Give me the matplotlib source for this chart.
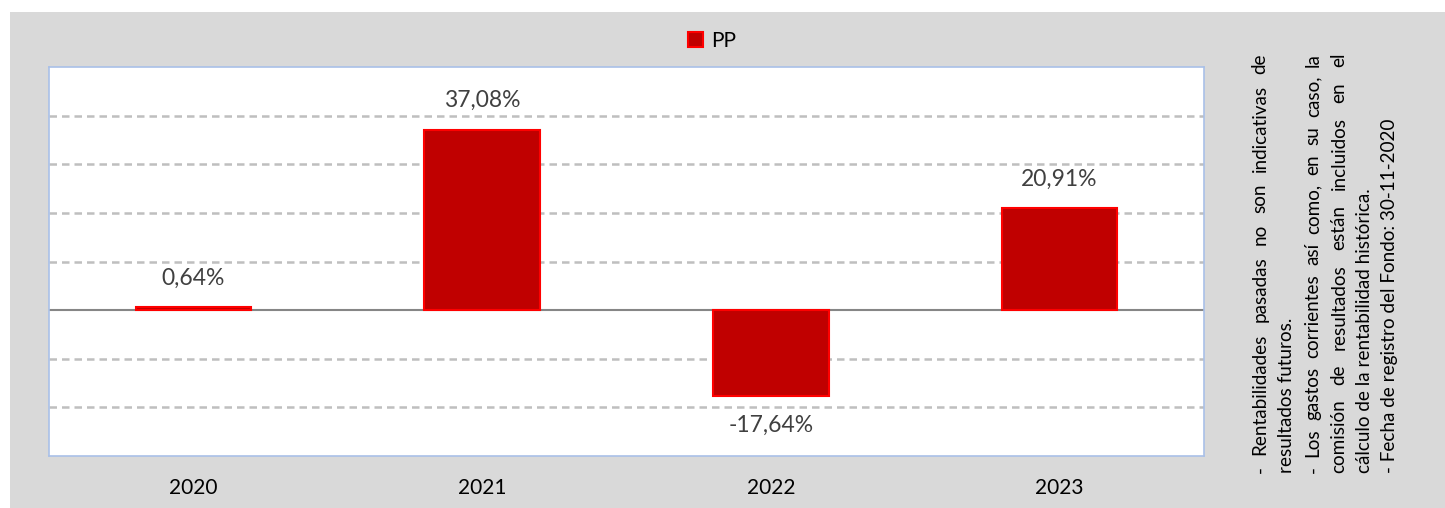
import matplotlib
matplotlib.use('Agg')
import matplotlib.pyplot as plt
from matplotlib.patches import Rectangle, Patch
import numpy as np

plt.rcParams['font.family'] = ['Lato', 'DejaVu Sans']

# data
years = ['2020', '2021', '2022', '2023']
pp = [0.64, 37.08, -17.64, 20.91]
labels = ['0,64%', '37,08%', '-17,64%', '20,91%']

notes = [
    ('- Rentabilidades pasadas no son indicativas de', True),
    ('resultados futuros.', False),
    ('- Los gastos corrientes así como, en su caso, la', True),
    ('comisión de resultados están incluidos en el', True),
    ('cálculo de la rentabilidad histórica.', False),
    ('- Fecha de registro del Fondo: 30-11-2020', False),
]

W, H = 1445, 508
fig = plt.figure(figsize=(W / 100, H / 100), dpi=100, facecolor='white')
fig.patches.append(Rectangle((10 / W, 0), 1, 1 - 12 / H, transform=fig.transFigure,
                             facecolor='#d9d9d9', edgecolor='none', zorder=-5))

ax = fig.add_axes([49 / W, 1 - 456 / H, 1155 / W, 389 / H])
ax.set_facecolor('white')

x = np.arange(len(years))
bars = ax.bar(x, pp, width=0.4, color='#c00000', edgecolor='#ff0000', linewidth=1.5,
              label='PP', zorder=3)

ax.set_xlim(-0.5, len(years) - 0.5)
ax.set_ylim(-30, 50)
ax.set_yticks([])
for g in [-20, -10, 10, 20, 30, 40]:
    ax.axhline(g, color='#bfbfbf', lw=1.8, ls=(0, (3, 2)), zorder=1)
ax.axhline(0, color='#868686', lw=1.5, zorder=2)

ax.set_xticks(x)
ax.set_xticklabels(years, fontsize=15, color='black')
ax.tick_params(axis='x', length=0, pad=16)
for s in ax.spines.values():
    s.set_color('#a9c0e8')
    s.set_linewidth(1.2)

for xi, v, lab in zip(x, pp, labels):
    off = 21 if v >= 0 else -21
    ax.annotate(lab, (xi, v), xytext=(0, off), textcoords='offset points',
                ha='center', va='center', fontsize=16.5, color='#404040')

leg = fig.legend(handles=[Patch(facecolor='#c00000', edgecolor='#ff0000', linewidth=1.5, label='PP')],
                 loc='center', bbox_to_anchor=(712 / W, 1 - 41 / H), frameon=False,
                 fontsize=15, handlelength=0.75, handleheight=0.75, handletextpad=0.4)

# rotated notes, justified like the original
fig.canvas.draw()
renderer = fig.canvas.get_renderer()
note_size = 13.6
line_x = [1260, 1287, 1313, 1339, 1364, 1390]
y_start, y_end = 473, 53
full_len = y_start - y_end


def text_len(s):
    t = fig.text(0, 0, s, fontsize=note_size)
    w = t.get_window_extent(renderer).width
    t.remove()
    return w


for (line, justify), lx in zip(notes, line_x):
    fx = lx / W
    if not justify:
        fig.text(fx, 1 - y_start / H, line, fontsize=note_size, rotation=90,
                 rotation_mode='anchor', ha='left', va='center', color='black')
        continue
    words = line.split(' ')
    widths = [text_len(w) for w in words]
    gap = (full_len - sum(widths)) / (len(words) - 1)
    pos = y_start
    for w, wl in zip(words, widths):
        fig.text(fx, 1 - pos / H, w, fontsize=note_size, rotation=90,
                 rotation_mode='anchor', ha='left', va='center', color='black')
        pos -= wl + gap

fig.savefig('out.png', dpi=100, facecolor=fig.get_facecolor())
